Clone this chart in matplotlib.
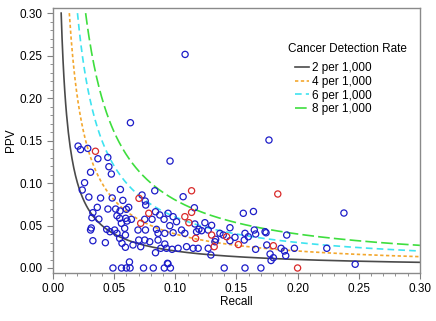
import numpy as np
import matplotlib.pyplot as plt
from matplotlib.ticker import AutoMinorLocator, MultipleLocator

plt.rcParams['font.family'] = ['Liberation Sans', 'DejaVu Sans']
plt.rcParams['font.size'] = 8.5

# Facilities (blue)
recall_blue = [
    0.0205, 0.0225, 0.0284, 0.0367, 0.0448, 0.0457, 0.0307, 0.0477, 0.0258, 0.0239,
    0.0551, 0.0293, 0.0389, 0.0484, 0.0571, 0.0362, 0.0449, 0.0512, 0.0548, 0.0600,
    0.0326, 0.0318, 0.0375, 0.0523, 0.0545, 0.0594, 0.0605, 0.0559, 0.0313, 0.0307,
    0.0439, 0.0466, 0.0504, 0.0523, 0.0586, 0.0592, 0.0545, 0.0564, 0.0592, 0.0326,
    0.0428, 0.0625, 0.0633, 0.049, 0.056, 0.060, 0.063,
    0.0957, 0.0832, 0.0728, 0.0754, 0.0758, 0.1064, 0.1156, 0.0619, 0.0838, 0.0873,
    0.0941, 0.0982, 0.0641, 0.0750, 0.0810, 0.0908, 0.0955, 0.1010, 0.1160, 0.1174,
    0.0695, 0.0756, 0.0846, 0.0859, 0.0914, 0.0982, 0.1051, 0.1078, 0.0701, 0.0750,
    0.0791, 0.0859, 0.0654, 0.0717, 0.0914, 0.0881, 0.0928, 0.0974, 0.1023, 0.1092,
    0.1146, 0.0838, 0.0936, 0.074, 0.082, 0.091, 0.096, 0.094,
    0.1080, 0.1556, 0.1639, 0.1242, 0.1297, 0.1193, 0.1215, 0.1269, 0.1330, 0.1365,
    0.1392, 0.1447, 0.1447, 0.1488, 0.1570, 0.1564, 0.1597, 0.1646, 0.1657, 0.1734,
    0.1324, 0.1269, 0.1187, 0.1291, 0.1657, 0.1766, 0.140, 0.157, 0.170,
    0.1911, 0.1742, 0.1748, 0.1865, 0.1892, 0.1903, 0.1974, 0.1775, 0.1802, 0.1783,
    0.2239, 0.2379, 0.2471,
]
ppv_blue = [
    0.1435, 0.1394, 0.1408, 0.1286, 0.1302, 0.1192, 0.1127, 0.1106, 0.1004, 0.0918,
    0.0924, 0.0835, 0.0824, 0.0824, 0.0796, 0.0714, 0.0694, 0.0694, 0.0671, 0.0691,
    0.0651, 0.0592, 0.0576, 0.0615, 0.0585, 0.0585, 0.0553, 0.0526, 0.0471, 0.0447,
    0.0455, 0.0427, 0.0447, 0.0408, 0.0467, 0.0388, 0.0349, 0.0291, 0.0244, 0.0321,
    0.0298, 0.0071, 0.1710, 0.0, 0.0, 0.0, 0.0,
    0.1259, 0.0909, 0.0859, 0.0788, 0.0741, 0.0839, 0.0709, 0.0714, 0.0662, 0.0624,
    0.0644, 0.0604, 0.0573, 0.0573, 0.0573, 0.0573, 0.0498, 0.0545, 0.0518, 0.0427,
    0.0447, 0.0447, 0.0455, 0.0408, 0.0408, 0.0415, 0.0447, 0.0408, 0.0329, 0.0329,
    0.0309, 0.0329, 0.0271, 0.0251, 0.0282, 0.0232, 0.0232, 0.0220, 0.0232, 0.0251,
    0.0232, 0.0180, 0.0055, 0.0, 0.0, 0.0, 0.0, 0.005,
    0.2514, 0.0644, 0.0665, 0.0533, 0.0502, 0.0455, 0.0439, 0.0447, 0.0338, 0.0408,
    0.0388, 0.0474, 0.0321, 0.0361, 0.0408, 0.0329, 0.0368, 0.0447, 0.0400, 0.0427,
    0.0309, 0.0232, 0.0232, 0.0153, 0.0220, 0.1506, 0.0, 0.0, 0.0,
    0.0388, 0.0415, 0.0271, 0.0232, 0.0200, 0.0145, 0.0232, 0.0165, 0.0121, 0.0088,
    0.0232, 0.0647, 0.0044,
]

# Facilities (red)
recall_red = [0.0347, 0.0703, 0.1133, 0.1133, 0.1078, 0.0783, 0.0717, 0.1111, 0.1166,
              0.1297, 0.1420, 0.1318, 0.1516, 0.1838, 0.1802, 0.2000]
ppv_red = [0.1374, 0.0820, 0.0909, 0.0655, 0.0604, 0.0644, 0.0526, 0.0533, 0.0349,
           0.0388, 0.0368, 0.0251, 0.0276, 0.0871, 0.0262, 0.0]

# Iso cancer-detection-rate curves
cdr_rates = [0.002, 0.004, 0.006, 0.008]
cdr_labels = ["2 per 1,000", "4 per 1,000", "6 per 1,000", "8 per 1,000"]
cdr_colors = ["#4a4a4a", "#f3a72e", "#3fe3f0", "#3ede3e"]
cdr_styles = ["-", (0, (2, 1.5)), (0, (4, 2.5)), (0, (7, 2.5))]

fig = plt.figure(figsize=(4.36, 3.21), dpi=100)
ax = fig.add_axes([0.1216, 0.1495, 0.8428, 0.8255])

handles = []
for rate, lab, col, ls in zip(cdr_rates, cdr_labels, cdr_colors, cdr_styles):
    r = np.linspace(rate / 0.30, 0.30, 400)
    h, = ax.plot(r, rate / r, color=col, linestyle=ls, linewidth=1.2, label=lab)
    handles.append(h)

ax.scatter(recall_blue, ppv_blue, s=20, facecolors="none", edgecolors="#1c1cc8",
           linewidths=0.9, zorder=3)
ax.scatter(recall_red, ppv_red, s=20, facecolors="none", edgecolors="#d92a2a",
           linewidths=0.9, zorder=3)

ax.set_xlim(0, 0.3005)
ax.set_ylim(-0.0059, 0.306)
ax.xaxis.set_major_locator(MultipleLocator(0.05))
ax.yaxis.set_major_locator(MultipleLocator(0.05))
ax.xaxis.set_minor_locator(AutoMinorLocator(5))
ax.yaxis.set_minor_locator(AutoMinorLocator(5))
ax.xaxis.set_major_formatter(plt.FormatStrFormatter("%.2f"))
ax.yaxis.set_major_formatter(plt.FormatStrFormatter("%.2f"))
ax.tick_params(which="major", length=4, color="#808080", width=0.8)
ax.tick_params(which="minor", length=2, color="#808080", width=0.6)
for sp in ax.spines.values():
    sp.set_color("#8a8a8a")
    sp.set_linewidth(1.0)

ax.set_xlabel("Recall", labelpad=0.5)
ax.set_ylabel("PPV", labelpad=1.5)

fig.text(347 / 436, 1 - 49 / 321, "Cancer Detection Rate", ha="center", va="center")
ax.legend(handles=handles, loc="upper left", bbox_to_anchor=(295 / 436, 1 - 62 / 321),
          bbox_transform=fig.transFigure, frameon=False, borderpad=0, borderaxespad=0,
          handlelength=1.2, handletextpad=0.2, labelspacing=0.15)

fig.savefig("out.png", dpi=100)
